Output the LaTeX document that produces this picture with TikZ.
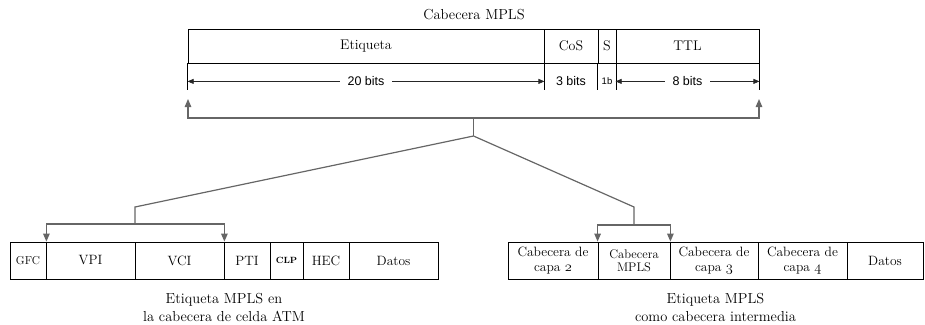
\documentclass[tikz,border=0pt]{standalone}
\usepackage{fontspec}
\newfontfamily\dimfont{Liberation Sans}
\usetikzlibrary{arrows.meta,calc}

% old-style figures taken from the math italic font
\newcommand{\osf}[1]{{\usefont{OML}{cmm}{m}{it}#1}}

\tikzset{
  field/.style={draw=black, line width=0.8pt, inner sep=0pt, minimum height=#1,
    align=center, font=\fontsize{13.5}{15}\selectfont},
  field/.default=34pt,
  dimline/.style={draw=black!85, line width=0.7pt},
  dimtip/.style={-{Triangle[length=6pt,width=5pt]}},
  dimlabel/.style={fill=white, inner ysep=2pt, inner xsep=8pt, font=\dimfont\fontsize{12.5}{12.5}\selectfont},
  conn/.style={draw=black!60, line width=1.2pt},
  conntip/.style={{Triangle[length=8pt,width=6.5pt]}-{Triangle[length=8pt,width=6.5pt]}},
  caption/.style={align=center, font=\fontsize{14.5}{18}\selectfont},
}

\begin{document}
\begin{tikzpicture}[x=1pt, y=-1pt]
  \useasboundingbox (0,0) rectangle (925,324);

  % ---- MPLS header ----
  \node[caption] (title) at (474,15) {Cabecera MPLS};
  \node[field, minimum width=356pt, font=\fontsize{14}{15}\selectfont] (etq)  at (366,46)   {Etiqueta};
  \node[field, minimum width=54pt, font=\fontsize{14}{15}\selectfont]  (cos)  at (571,46)   {CoS};
  \node[field, minimum width=18pt, font=\fontsize{14}{15}\selectfont]  (sbit) at (607,46)   {S};
  \node[field, minimum width=143pt, font=\fontsize{14}{15}\selectfont] (ttl)  at (687.5,46) {TTL};

  % extension lines under the field borders
  \foreach \p in {etq.south west, etq.south east, sbit.south west, sbit.south east, ttl.south east}
    \draw[draw=black, line width=0.7pt] (\p) -- ++(0,27);

  % bit widths
  \draw[dimline, dimtip] ($(etq.south)+(0,18)$) -- ($(etq.south east)+(0,18)$);
  \draw[dimline, dimtip] ($(etq.south)+(0,18)$) -- ($(etq.south west)+(0,18)$);
  \node[dimlabel] (w20) at ($(etq.south)+(0,18)$) {20 bits};
  \node[dimlabel, fill=none, inner xsep=0pt] (w3) at ($(cos.south)+(0,18)$) {3 bits};
  \node[dimlabel, fill=none, inner sep=0pt, font=\dimfont\fontsize{9.5}{10}\selectfont] (w1) at ($(sbit.south)+(0,18)$) {1b};
  \draw[dimline, dimtip] ($(ttl.south)+(0,18)$) -- ($(ttl.south east)+(0,18)$);
  \draw[dimline, dimtip] ($(ttl.south)+(0,18)$) -- ($(ttl.south west)+(0,18)$);
  \node[dimlabel] (w8) at ($(ttl.south)+(0,18)$) {8 bits};

  % ---- ATM cell header ----
  \node[field=37pt, minimum width=36pt, font=\fontsize{11.5}{13}\selectfont] (gfc) at (28,260.5) {GFC};
  \node[field=37pt, minimum width=89pt] (vpi) at (90.5,260.5)  {VPI};
  \node[field=37pt, minimum width=89pt] (vci) at (179.5,260.5) {VCI};
  \node[field=37pt, minimum width=46pt] (pti) at (247,260.5)   {PTI};
  \node[field=37pt, minimum width=33pt, font=\bfseries\fontsize{9}{10}\selectfont] (clp) at (286.5,260.5) {CLP};
  \node[field=37pt, minimum width=46pt] (hec) at (326,260.5)   {HEC};
  \node[field=37pt, minimum width=89pt] (datL) at (393.5,260.5) {Datos};
  \node[caption] (capL) at (224,307) {Etiqueta MPLS en\\la cabecera de celda ATM};

  % ---- MPLS as an intermediate header ----
  \node[field=37pt, minimum width=90pt] (c2)   at (553,260.5)   {Cabecera de\\capa \osf{2}};
  \node[field=37pt, minimum width=72pt, font=\fontsize{12.5}{13.5}\selectfont] (mpls) at (634,260.5) {Cabecera\\MPLS};
  \node[field=37pt, minimum width=88pt] (c3)   at (714,260.5)   {Cabecera de\\capa \osf{3}};
  \node[field=37pt, minimum width=89pt] (c4)   at (802.5,260.5) {Cabecera de\\capa \osf{4}};
  \node[field=37pt, minimum width=76pt] (datR) at (885,260.5)   {Datos};
  \node[caption] (capR) at (715.5,307) {Etiqueta MPLS\\como cabecera intermedia};

  % ---- connectors ----
  \coordinate (upL)   at (188,99);
  \coordinate (upR)   at (759,99);
  \coordinate (hub)   at (473.5,118);
  \coordinate (split) at (473.5,136);
  \coordinate (bendL) at (135,207);
  \coordinate (jL)    at (135,224);
  \coordinate (bendR) at (634,207);
  \coordinate (jR)    at (634,225);

  \draw[conn, conntip] (upL) |- (hub) -| (upR);
  \draw[conn] (hub) -- (split);
  \draw[conn] (split) -- (bendL) -- (jL);
  \draw[conn] (split) -- (bendR) -- (jR);
  \draw[conn, conntip] (gfc.north east) |- (jL) -| (vci.north east);
  \draw[conn, conntip] (mpls.north west) |- (jR) -| (mpls.north east);
\end{tikzpicture}
\end{document}
